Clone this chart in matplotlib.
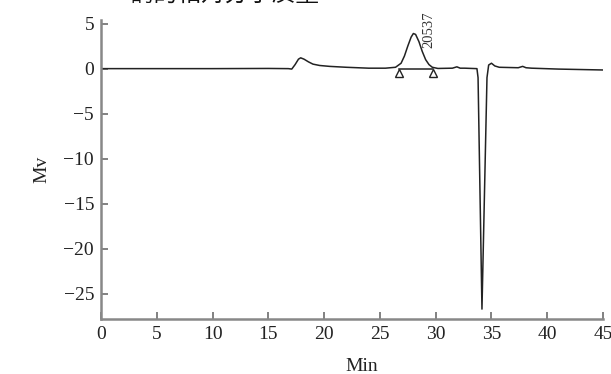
import matplotlib
matplotlib.use('Agg')
import matplotlib.pyplot as plt

# Datos del cromatograma
time_min = [0, 5, 10, 15, 16.8, 17.1, 17.4, 17.7, 17.9, 18.2, 18.6, 19.0, 19.6,
            20.5, 22, 24, 25.5, 26.4, 26.9, 27.2, 27.5, 27.8, 28.0, 28.2, 28.5,
            28.8, 29.1, 29.4, 29.7, 30.2, 31.5, 31.9, 32.2, 32.6, 33.7, 33.8,
            34.15, 34.6, 34.75, 35.0, 35.3, 35.7, 37.4, 37.8, 38.1, 38.6, 41, 45]
signal_mv = [0, 0, 0, 0.02, 0, -0.05, 0.45, 1.05, 1.2, 1.05, 0.75, 0.5, 0.35,
             0.25, 0.15, 0.05, 0.05, 0.15, 0.6, 1.4, 2.5, 3.5, 3.9, 3.8, 3.0,
             1.9, 1.0, 0.45, 0.15, 0.02, 0.05, 0.2, 0.05, 0.05, 0.0, -1.0,
             -26.7, -1.0, 0.4, 0.6, 0.3, 0.15, 0.1, 0.25, 0.1, 0.05, -0.05, -0.15]

# Inicio y fin del pico integrado
peak_limits = [26.7, 29.8]
peak_marks_y = [-0.45, -0.45]
peak_label = '20537'
peak_label_pos = (29.4, 4.3)

xticks = [0, 5, 10, 15, 20, 25, 30, 35, 40, 45]
yticks = [5, 0, -5, -10, -15, -20, -25]

serif = 'Liberation Serif'

fig = plt.figure(figsize=(6.11, 3.74), dpi=100)
ax = fig.add_axes([101 / 611, 1 - 319 / 374, 502 / 611, 299 / 374])

ax.plot(time_min, signal_mv, color='#222222', linewidth=1.1)
ax.plot(peak_limits, [0, 0], color='#222222', linewidth=1.1)
ax.plot(peak_limits, peak_marks_y, linestyle='none', marker='^', markersize=6,
        markerfacecolor='white', markeredgecolor='#222222', markeredgewidth=1.0)
ax.text(peak_label_pos[0], peak_label_pos[1], peak_label, rotation=90,
        ha='center', va='center', fontsize=10.5, family=serif, color='#333333')

ax.set_xlim(0, 45)
ax.set_ylim(-27.8, 5.4)
ax.set_xticks(xticks)
ax.set_yticks(yticks)

for side in ['top', 'right']:
    ax.spines[side].set_visible(False)
for side in ['left', 'bottom']:
    ax.spines[side].set_color('#888888')
    ax.spines[side].set_linewidth(1.8)

ax.tick_params(direction='in', length=5, width=1.3, color='#777777',
               labelsize=14, labelcolor='#222222', pad=5)
for lab in ax.get_xticklabels() + ax.get_yticklabels():
    lab.set_family(serif)

ax.set_xlabel('Min', fontsize=14, family=serif, color='#222222')
ax.xaxis.set_label_coords(0.52, -0.13)
ax.set_ylabel('Mv', fontsize=14, family=serif, color='#222222')
ax.yaxis.set_label_coords(-0.10, 0.5)

# Titulo recortado en la parte superior
fig.text(320 / 611, 1 - 2 / 374, '酶的相对分子质量', ha='right', va='baseline',
         fontsize=17, family=['Noto Sans CJK SC', 'DejaVu Sans'], color='#111111')

fig.savefig('out.png', dpi=100)
